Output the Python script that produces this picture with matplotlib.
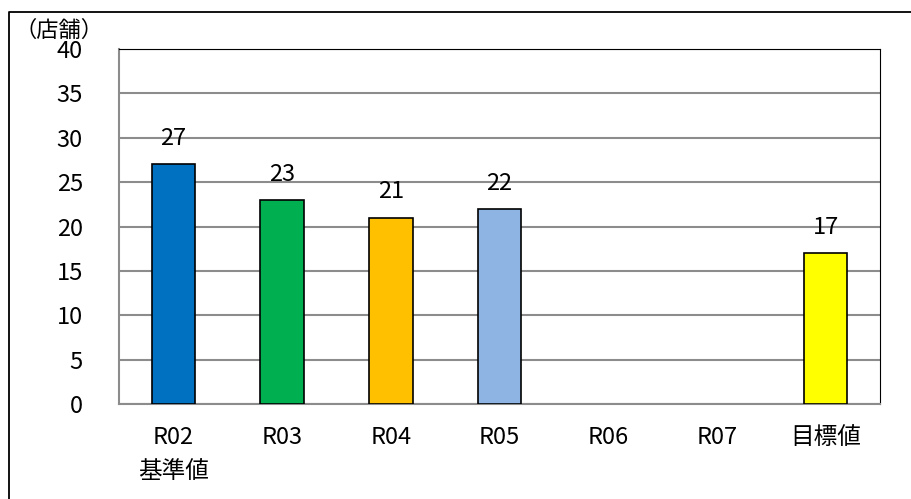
import matplotlib
matplotlib.use("Agg")
import matplotlib.pyplot as plt
from matplotlib.lines import Line2D

plt.rcParams['font.family'] = ['Noto Sans CJK JP', 'DejaVu Sans']

categories = ["R02\n基準値", "R03", "R04", "R05", "R06", "R07", "目標値"]
values = [27, 23, 21, 22, None, None, 17]
colors = ["#0070C0", "#00B050", "#FFC000", "#8EB4E3", "#FFFFFF", "#FFFFFF", "#FFFF00"]

fig = plt.figure(figsize=(9.12, 4.99), dpi=100)
ax = fig.add_axes([119/912, 1-404/499, (880-119)/912, (404-49)/499])

# outer frame (only left and top edges are inside the picture)
fig.lines.append(Line2D([9/912, 9/912, 1.0], [0.0, 1-12/499, 1-12/499],
                        transform=fig.transFigure, color="black", linewidth=1.3))

x = list(range(len(categories)))
for i, v in enumerate(values):
    if v is None:
        continue
    ax.bar(i, v, width=0.4, color=colors[i], edgecolor="black", linewidth=1.2, zorder=3)
    ax.text(i, v + 1.6, str(v), ha="center", va="bottom", fontsize=17)

ax.set_xlim(-0.5, len(categories) - 0.5)
ax.set_ylim(0, 40)
ax.set_yticks(range(0, 41, 5))
ax.set_xticks(x)
ax.set_xticklabels(categories, fontsize=17, linespacing=1.6)
ax.tick_params(axis="y", labelsize=17, length=0, pad=26)
ax.tick_params(axis="x", length=0, pad=16)
ax.grid(axis="y", color="#8C8C8C", linewidth=1.5, zorder=0)

ax.spines["left"].set_color("#8C8C8C")
ax.spines["bottom"].set_color("#8C8C8C")
ax.spines["left"].set_linewidth(1.5)
ax.spines["bottom"].set_linewidth(1.5)
ax.spines["top"].set_color("black")
ax.spines["right"].set_color("black")

fig.text(14/912, 1-30/499, "（店舗）", fontsize=16, ha="left", va="center")

fig.savefig("out.png", dpi=100)
